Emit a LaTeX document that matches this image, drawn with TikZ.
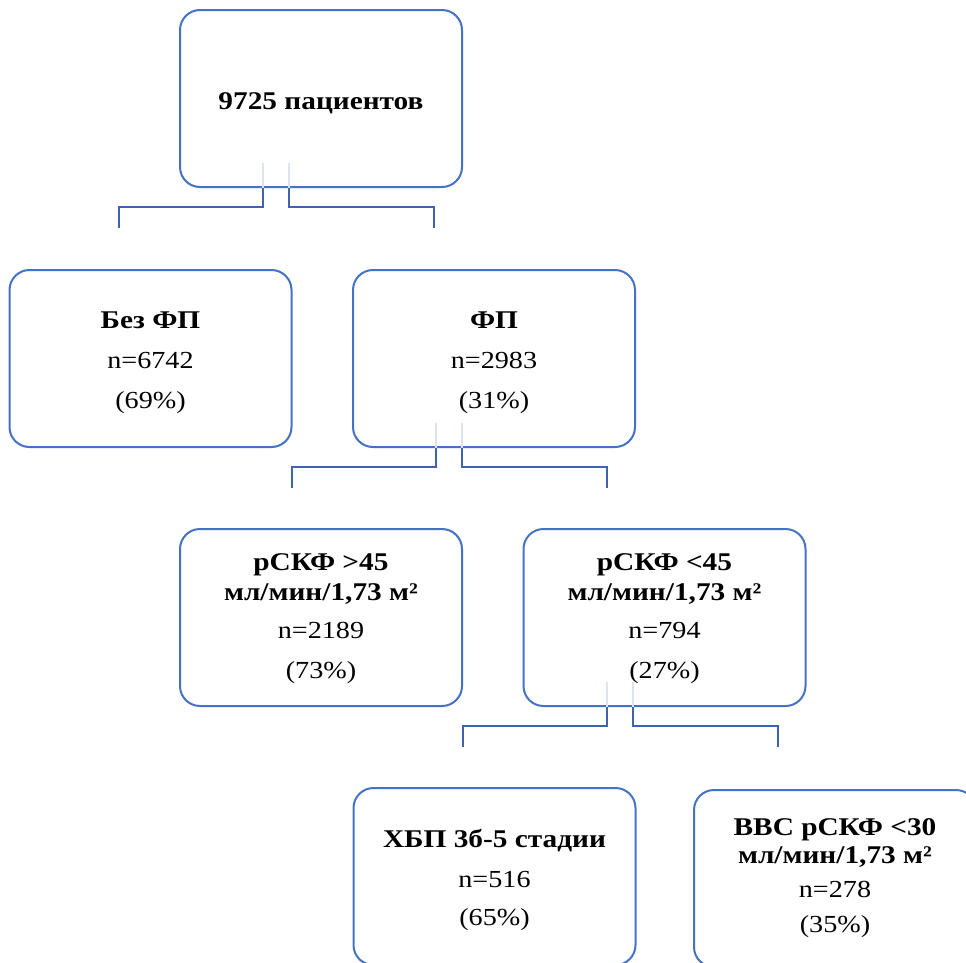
\documentclass[tikz,border=0pt]{standalone}
\usepackage{fontspec}
\setmainfont{Liberation Serif}[FakeStretch=1.15]
\usetikzlibrary{calc}
\definecolor{boxblue}{HTML}{4472C4}
\definecolor{linkblue}{HTML}{3F63AE}
\definecolor{faintblue}{HTML}{DDE4F1}
\newcommand\hd[1]{{\fontsize{25.5}{40}\selectfont\bfseries #1}}
\begin{document}
\begin{tikzpicture}[x=1pt,y=-1pt,
  box/.style={draw=boxblue,line width=2pt,rounded corners=20pt,minimum width=282pt,minimum height=177pt,align=center,inner sep=0pt,font=\fontsize{24.5}{40}\selectfont},
  conn/.style={draw=linkblue,line width=2pt},
  ghost/.style={draw=faintblue,line width=2pt}]
\clip (0,0) rectangle (966,962);
\fill[white] (0,0) rectangle (966,962);

\node[box,text height=21pt,text depth=0pt] (top) at (321,98.5) {\hd{9725 пациентов}};
\node[box,text height=99pt,text depth=0pt] (nofp) at (150.5,358.5) {\hd{Без ФП}\\n=6742\\(69\%)};
\node[box,text height=99pt,text depth=0pt] (fp) at (494,358.5) {\hd{ФП}\\n=2983\\(31\%)};
\node[box,text height=121pt,text depth=0pt] (g45) at (321,617.5) {\hd{рСКФ >45}\\[-10pt]\hd{мл/мин/1,73 м²}\\[-2pt]n=2189\\(73\%)};
\node[box,text height=121pt,text depth=0pt] (l45) at (664.5,617.5) {\hd{рСКФ <45}\\[-10pt]\hd{мл/мин/1,73 м²}\\[-2pt]n=794\\(27\%)};
\node[box,text height=97pt,text depth=0pt] (ckd) at (494.5,876.5) {\hd{ХБП 3б-5 стадии}\\n=516\\[-2pt](65\%)};
\node[box] (vvs) at (835,878.5) {\hd{ВВС рСКФ <30}\\[-12pt]\hd{мл/мин/1,73 м²}\\[-6pt]n=278\\[-5pt](35\%)};

% bracket connectors
\foreach \p/\a/\b in {top/t1/t2, fp/f1/f2, l45/l1/l2}{
  \draw[ghost] ($(\p.south)+(-58,-25)$) -- ($(\p.south)+(-58,0)$);
  \draw[ghost] ($(\p.south)+(-32,-25)$) -- ($(\p.south)+(-32,0)$);
  \coordinate (\a) at ($(\p.south)+(-202,40)$);
  \coordinate (\b) at ($(\p.south)+(113,40)$);
  \draw[conn] ($(\p.south)+(-58,0)$) |- ($(\p.south)+(-202,19)$) -- (\a);
  \draw[conn] ($(\p.south)+(-32,0)$) |- ($(\p.south)+(113,19)$) -- (\b);
}
\end{tikzpicture}
\end{document}
